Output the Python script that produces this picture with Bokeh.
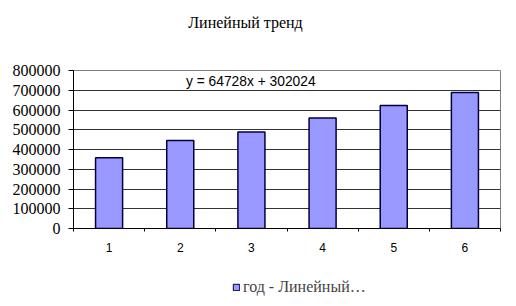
from bokeh.plotting import figure
from bokeh.layouts import column
from bokeh.models import (ColumnDataSource, Range1d, FixedTicker, Label, Legend, LegendItem,
                          BasicTickFormatter)
from bokeh.embed import file_html
from bokeh.resources import INLINE

categories = [1, 2, 3, 4, 5, 6]
values = [358000, 446000, 488000, 560000, 623000, 689000]
y_ticks = [0, 100000, 200000, 300000, 400000, 500000, 600000, 700000, 800000]
title_text = "Линейный тренд"
legend_text = "год - Линейный…"
equation = "y = 64728x + 302024"

SERIF = "Liberation Serif"
SANS = "Liberation Sans"
BAR_FILL = "#9999FF"
BAR_LINE = "#000040"
FRAME_L, FRAME_R = 73, 500


def blank(h):
    # x in screen pixels (column aligns frames with the main chart's frame)
    f = figure(width=516, height=h, output_backend="svg", toolbar_location=None,
               x_range=Range1d(FRAME_L, FRAME_R), y_range=Range1d(0, h),
               x_axis_location=None, y_axis_location=None,
               min_border=0, min_border_left=FRAME_L, min_border_right=516 - FRAME_R,
               min_border_top=0, min_border_bottom=0)
    f.outline_line_color = None
    f.grid.grid_line_color = None
    return f


# ---- header with title
head = blank(44)
head.add_layout(Label(x=245, y=44 - 22, text=title_text, text_font=SERIF,
                      text_font_size="16px", text_color="#000000",
                      text_align="center", text_baseline="middle"))

# ---- main chart
src = ColumnDataSource(dict(x=categories, top=values))
p = figure(width=516, height=216, output_backend="svg", toolbar_location=None,
           x_range=Range1d(0.5, 6.5), y_range=Range1d(0, 800000),
           min_border_left=FRAME_L, min_border_right=516 - FRAME_R,
           min_border_top=26, min_border_bottom=32)
p.outline_line_color = "#808080"

r = p.vbar(x="x", top="top", width=0.38, source=src, fill_color=BAR_FILL,
           line_color=BAR_LINE, line_width=1.5)

p.yaxis.ticker = FixedTicker(ticks=y_ticks)
p.yaxis.formatter = BasicTickFormatter(use_scientific=False)
p.yaxis.major_label_text_font = SERIF
p.yaxis.major_label_text_font_size = "16px"
p.yaxis.major_label_text_color = "#000000"
p.yaxis.axis_line_color = "#000000"
p.yaxis.major_tick_line_color = "#000000"
p.yaxis.major_tick_out = 5
p.yaxis.major_tick_in = 0
p.yaxis.minor_tick_line_color = None
p.yaxis.major_label_standoff = 8

p.xaxis.ticker = FixedTicker(ticks=categories, minor_ticks=[0.5, 1.5, 2.5, 3.5, 4.5, 5.5, 6.5])
p.xaxis.major_tick_line_color = None
p.xaxis.minor_tick_line_color = "#000000"
p.xaxis.minor_tick_out = 3
p.xaxis.minor_tick_in = 0
p.xaxis.axis_line_color = "#000000"
p.xaxis.major_label_text_font = SANS
p.xaxis.major_label_text_font_size = "12px"
p.xaxis.major_label_text_color = "#000000"
p.xaxis.major_label_standoff = 8

p.xgrid.grid_line_color = None
p.ygrid.ticker = FixedTicker(ticks=y_ticks)
p.ygrid.grid_line_color = "#000000"
p.ygrid.grid_line_alpha = 0.8

p.add_layout(Label(x=2.08, y=745000, text=equation, text_font=SANS,
                   text_font_size="13.8px", text_color="#000000", text_baseline="middle"))

# ---- footer with legend
foot = blank(46)
dummy = foot.vbar(x=[0], top=[0], width=1, fill_color=BAR_FILL, line_color=BAR_LINE,
                  line_width=1)
legend = Legend(items=[LegendItem(label=legend_text, renderers=[dummy])],
                location=(232 - FRAME_L, 10), border_line_color=None,
                background_fill_alpha=0,
                label_text_font=SERIF, label_text_font_size="16px",
                glyph_width=8, glyph_height=8, label_standoff=3, margin=0, padding=0,
                label_height=16)
foot.add_layout(legend, "center")

layout = column(head, p, foot, spacing=0)
open("out.html", "w").write(file_html(layout, INLINE))
